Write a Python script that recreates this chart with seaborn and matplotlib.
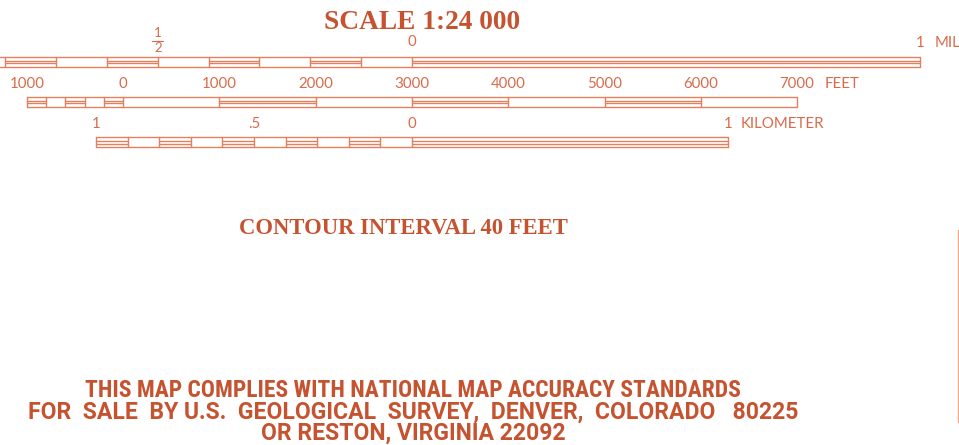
import numpy as np
import pandas as pd
import matplotlib
matplotlib.use("Agg")
import matplotlib.pyplot as plt
import seaborn as sns

# ---------------- data ----------------
mile_ticks = [-1.0, -0.9, -0.8, -0.7, -0.6, -0.5, -0.4, -0.3, -0.2, -0.1, 0.0, 1.0]
mile_fill = [1, 0, 1, 0, 1, 0, 1, 0, 1, 0, 1]
mile_label_pos = [0.0]
mile_label_txt = ["0"]

feet_ticks = [-1000, -800, -600, -400, -200, 0, 1000, 2000, 3000, 4000, 5000, 6000, 7000]
feet_fill = [1, 0, 1, 0, 1, 0, 1, 0, 1, 0, 1, 0]
feet_label_pos = [-1000, 0, 1000, 2000, 3000, 4000, 5000, 6000, 7000]
feet_label_txt = ["1000", "0", "1000", "2000", "3000", "4000", "5000", "6000", "7000"]

km_ticks = [-1.0, -0.9, -0.8, -0.7, -0.6, -0.5, -0.4, -0.3, -0.2, -0.1, 0.0, 1.0]
km_fill = [1, 0, 1, 0, 1, 0, 1, 0, 1, 0, 1]
km_label_pos = [-1.0, -0.5, 0.0, 1.0]
km_label_txt = ["1", ".5", "0", "1"]

unit_names = ["MILE", "FEET", "KILOMETER"]
title_txt = "SCALE 1:24 000"
contour_txt = "CONTOUR INTERVAL 40 FEET"
footer_lines = ["THIS MAP COMPLIES WITH NATIONAL MAP ACCURACY STANDARDS",
                "FOR  SALE  BY U.S.  GEOLOGICAL  SURVEY,  DENVER,  COLORADO   80225",
                "OR RESTON, VIRGINIA 22092"]

# ---------------- layout ----------------
PX_PER_MILE = 508.4
ZERO_PX = 412.0
FEET_OFFSET = 3000.0      # feet bar zero is 3000 ft left of mile zero
KM_PER_MILE = 1.609344


def px2mi(px):
    return (px - ZERO_PX) / PX_PER_MILE


def feet2mi(ft):
    return (np.asarray(ft, float) - FEET_OFFSET) / 5280.0


def km2mi(km):
    return np.asarray(km, float) / KM_PER_MILE


TEXT_C = "#c65330"
NUM_C = "#d96b4b"
LINE_C = "#e2805f"

sns.set_theme(style="white")
plt.rcParams["font.family"] = ["Lato", "DejaVu Sans"]

fig = plt.figure(figsize=(9.59, 4.45), dpi=100)
fig.patch.set_facecolor("white")
ax = fig.add_axes([0, 0, 1, 1])
ax.set_xlim(px2mi(0), px2mi(959))
ax.set_ylim(445, 0)
ax.axis("off")

rows = []
uid = [0]


def seg(x0, x1, y0, y1):
    rows.append((x0, y0, uid[0]))
    rows.append((x1, y1, uid[0]))
    uid[0] += 1


def bar(ticks_mi, fill, top, bot):
    ticks_mi = list(ticks_mi)
    h = bot - top
    seg(ticks_mi[0], ticks_mi[-1], top, top)
    seg(ticks_mi[0], ticks_mi[-1], bot, bot)
    for t in ticks_mi:
        seg(t, t, top, bot)
    for i, f in enumerate(fill):
        if f:
            for fr in (0.42, 0.68):
                seg(ticks_mi[i], ticks_mi[i + 1], top + fr * h, top + fr * h)


bar(mile_ticks, mile_fill, 56.5, 66.5)
bar(feet2mi(feet_ticks), feet_fill, 96.5, 106.5)
bar(km2mi(km_ticks), km_fill, 137, 147)

df = pd.DataFrame(rows, columns=["x", "y", "unit"])
sns.lineplot(data=df, x="x", y="y", units="unit", estimator=None, sort=False,
             color=LINE_C, linewidth=1.0, ax=ax, legend=False)

# page edge line on the right
sns.lineplot(x=[px2mi(958.3), px2mi(958.3)], y=[230, 422], color="#f0a88e",
             linewidth=1.0, ax=ax, sort=False, estimator=None)

NUM_FS = 10.8
num_kw = dict(color=NUM_C, fontsize=NUM_FS, fontweight="normal", ha="center", va="center")

# mile labels
for p, t in zip(mile_label_pos, mile_label_txt):
    ax.text(p, 42, t, **num_kw)
ax.text(-0.5, 33, "1", **{**num_kw, "fontsize": 9.5})
ax.text(-0.5, 48.5, "2", **{**num_kw, "fontsize": 9.5})
sns.lineplot(x=[px2mi(151.5), px2mi(162.5)], y=[40.5, 40.5], color=NUM_C, linewidth=0.8,
             ax=ax, sort=False, estimator=None)
ax.text(1.0, 43, "1", **num_kw)
ax.annotate(unit_names[0], (1.0, 43), xytext=(10, 0), textcoords="offset points",
            color=NUM_C, fontsize=NUM_FS, ha="left", va="center")

# feet labels
for p, t in zip(feet_label_pos, feet_label_txt):
    ax.text(feet2mi(p), 84, t, **num_kw)
ax.annotate(unit_names[1], (feet2mi(7000), 84), xytext=(20, 0), textcoords="offset points",
            color=NUM_C, fontsize=NUM_FS, ha="left", va="center")

# km labels
for p, t in zip(km_label_pos, km_label_txt):
    ax.text(km2mi(p), 124.5, t, **num_kw)
ax.annotate(unit_names[2], (km2mi(1.0), 124.5), xytext=(9, 0), textcoords="offset points",
            color=NUM_C, fontsize=NUM_FS, ha="left", va="center")

# titles
ax.text(px2mi(422.5), 22.5, title_txt, color=TEXT_C, fontsize=19.7, fontweight="bold",
        family=["Liberation Serif", "DejaVu Serif"], ha="center", va="center")
ax.text(px2mi(403), 229, contour_txt, color=TEXT_C, fontsize=16.3, fontweight="bold",
        family=["Liberation Serif", "DejaVu Serif"], ha="center", va="center")

footer_fam = [["Roboto Condensed", "Roboto", "DejaVu Sans"],
              ["Roboto", "DejaVu Sans"],
              ["Roboto", "DejaVu Sans"]]
footer_fs = [16.9, 16.6, 16.6]
for y, line, fam, fs in zip([390.5, 412, 433], footer_lines, footer_fam, footer_fs):
    ax.text(px2mi(413), y, line, color=TEXT_C, fontsize=fs, fontweight="bold",
            family=fam, ha="center", va="center")

fig.savefig("out.png", dpi=100, facecolor="white")
